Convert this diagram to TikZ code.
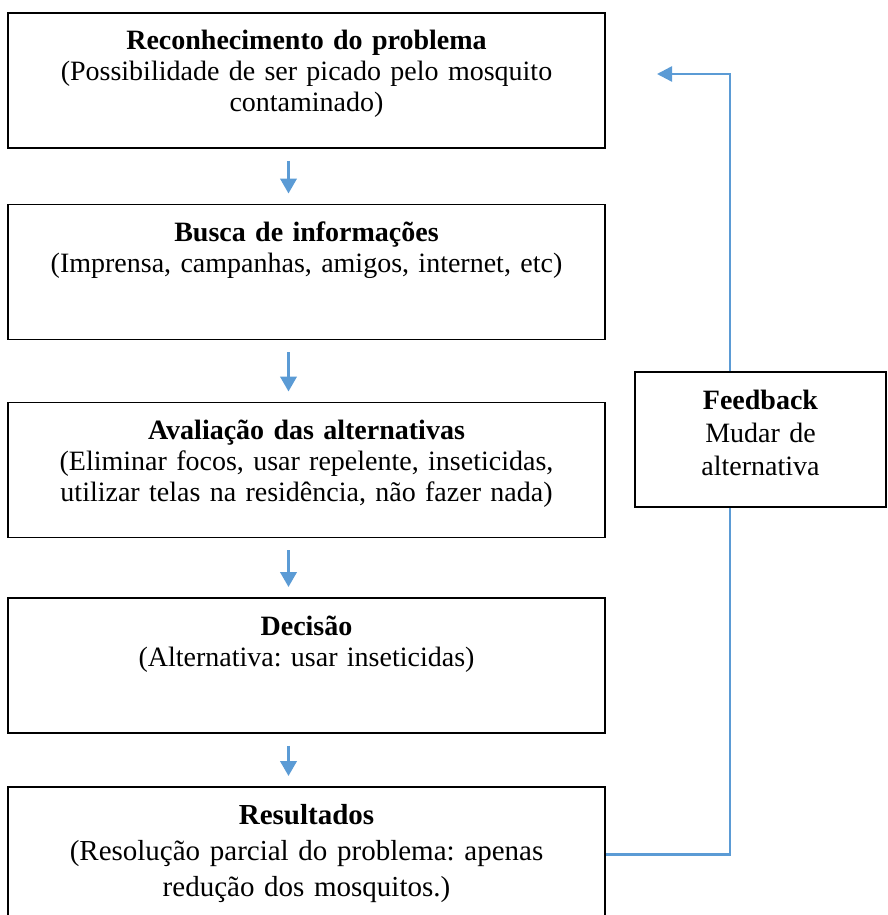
\documentclass[tikz,border=0pt]{standalone}
\usepackage{fontspec}
\setmainfont{Liberation Serif}
\usepackage{xcolor}
\usetikzlibrary{arrows.meta}

\definecolor{flowblue}{HTML}{5B9BD5}
\frenchspacing

\tikzset{
    stagebox/.style={draw=black, line width=1.8pt, inner sep=0pt, align=center,
        text width=597pt, text height=37pt, text depth=98pt,
        font=\fontsize{28}{31}\selectfont},
    downarrow/.style={flowblue, line width=3.5pt, shorten <=12pt, shorten >=10pt,
        -{Triangle[length=15pt,width=16pt]}},
    fbline/.style={flowblue, line width=2.5pt}
}

\begin{document}
\begin{tikzpicture}[x=1pt,y=-1pt]
    \useasboundingbox (0,0) rectangle (888,915);

    % etapas do processo
    \node[stagebox] (recon) at (306.5,80.5) {\textbf{Reconhecimento do problema}\\
        (Possibilidade de ser picado pelo mosquito\\ contaminado)};
    \node[stagebox] (busca) at (306.5,272) {\textbf{Busca de informações}\\
        (Imprensa, campanhas, amigos, internet, etc)};
    \node[stagebox] (aval) at (306.5,470) {\textbf{Avaliação das alternativas}\\
        (Eliminar focos, usar repelente, inseticidas,\\
        utilizar telas na residência, não fazer nada)};
    \node[stagebox] (decisao) at (306.5,665.5) {\textbf{Decisão}\\
        (Alternativa: usar inseticidas)};
    \node[stagebox, font=\fontsize{29}{36}\selectfont] (result) at (306.5,854.5)
        {\textbf{Resultados}\\ (Resolução parcial do problema: apenas\\ redução dos mosquitos.)};

    % caixa de retorno
    \node[stagebox, text width=251pt, font=\fontsize{28}{33}\selectfont] (fb) at (760.5,439.5)
        {\textbf{Feedback}\\ Mudar de\\ alternativa};

    \foreach \a/\b in {recon/busca, busca/aval, aval/decisao, decisao/result}
        \draw[downarrow] ([xshift=-18pt]\a.south) -- ([xshift=-18pt]\b.north);

    \coordinate (turn) at (730,854.5);
    \coordinate (back) at (657,74);
    \draw[fbline] (result.east) -- (turn) -- (turn |- fb.south);
    \draw[fbline, -{Triangle[length=15pt,width=15pt]}] (turn |- fb.north) |- (back);
\end{tikzpicture}
\end{document}
